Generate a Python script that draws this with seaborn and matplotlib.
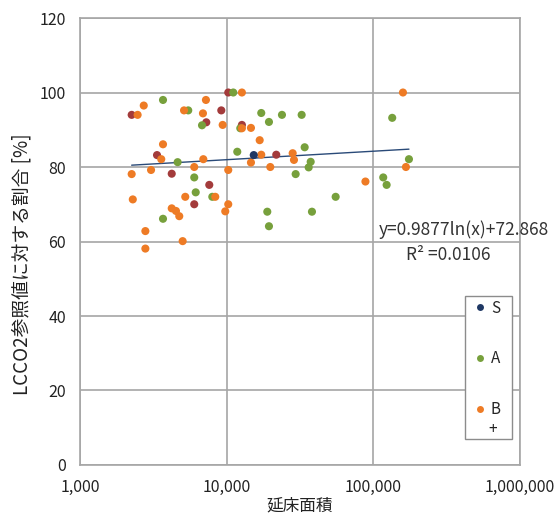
import matplotlib
matplotlib.use("Agg")
import matplotlib.pyplot as plt
import matplotlib.ticker as mticker
from matplotlib.lines import Line2D
from matplotlib.patches import Rectangle
import numpy as np
import pandas as pd
import seaborn as sns

### Data (floor area, % of LCCO2 reference)
s_area = [15300]
s_ratio = [83.2]

a_area = [3680, 5470, 6790, 4630, 6010, 6150, 7980, 3680, 11090, 17210,
          23820, 32450, 19420, 12380, 11810, 34020, 37390, 36230, 29530, 134500,
          174900, 116800, 123200, 55340, 18920, 38150, 19420]
a_ratio = [98.0, 95.2, 91.2, 81.3, 77.2, 73.2, 72.0, 66.1, 100.0, 94.5,
           94.0, 94.0, 92.1, 90.4, 84.1, 85.3, 81.4, 79.9, 78.1, 93.2,
           82.1, 77.2, 75.2, 72.0, 68.0, 68.0, 64.1]

b_area = [2720, 7220, 2470, 5120, 6890, 9390, 3680, 3580, 6930, 6010,
          3050, 2250, 10250, 12700, 12700, 14640, 16790, 17210, 28180, 28760,
          14640, 19830, 159200, 166800, 5220, 8360, 2290, 4220, 4510, 4750,
          9780, 10250, 2790, 5010, 2790, 88330]
b_ratio = [96.5, 98.0, 94.0, 95.2, 94.4, 91.3, 86.1, 82.1, 82.1, 80.0,
           79.2, 78.1, 79.2, 100.0, 90.4, 90.5, 87.2, 83.3, 83.7, 81.9,
           81.2, 80.0, 100.0, 80.0, 72.0, 72.0, 71.3, 68.9, 68.2, 66.8,
           68.1, 70.0, 62.8, 60.1, 58.1, 76.1]

bp_area = [2250, 9190, 7260, 10250, 3350, 4220, 12700, 21780, 7610, 6010]
bp_ratio = [94.0, 95.2, 92.0, 100.0, 83.2, 78.2, 91.3, 83.3, 75.2, 70.0]

classes = ["B+", "A", "B", "S"]
colors = {"S": "#1f3864", "A": "#77a03c", "B": "#ee7b25", "B+": "#a33b3b"}

# trend line as printed on the chart
trend_a = 0.9877
trend_b = 72.868
trend_r2 = 0.0106

x_ticks = [1000, 10000, 100000, 1000000]
y_ticks = [0, 20, 40, 60, 80, 100, 120]


def main():
    df = pd.concat([
        pd.DataFrame({"area": s_area, "ratio": s_ratio, "rank": "S"}),
        pd.DataFrame({"area": a_area, "ratio": a_ratio, "rank": "A"}),
        pd.DataFrame({"area": b_area, "ratio": b_ratio, "rank": "B"}),
        pd.DataFrame({"area": bp_area, "ratio": bp_ratio, "rank": "B+"}),
    ], ignore_index=True)

    sns.set_style("white")
    plt.rcParams["font.family"] = ["Noto Sans CJK JP", "DejaVu Sans"]

    fig = plt.figure(figsize=(5.58, 5.22), dpi=100)
    ax = fig.add_axes([0.1434, 0.1092, 0.7885, 0.8563])

    grid_c = "#a6a6a6"
    ax.set_xscale("log")
    ax.set_xlim(1000, 1000000)
    ax.set_ylim(0, 120)
    ax.set_xticks(x_ticks)
    ax.set_yticks(y_ticks)
    ax.xaxis.set_minor_locator(mticker.NullLocator())
    ax.xaxis.set_major_formatter(mticker.FuncFormatter(lambda v, p: f"{int(v):,}"))
    ax.grid(True, color=grid_c, linewidth=1.2)
    ax.set_axisbelow(True)
    for sp in ax.spines.values():
        sp.set_color(grid_c)
        sp.set_linewidth(1.2)
    ax.tick_params(axis="both", which="major", length=4.5, width=1.2, color=grid_c,
                   labelsize=11.5, labelcolor="#222222", direction="out", pad=5.5)

    # trend line
    xs = np.geomspace(min(df["area"]), max(df["area"]), 100)
    ax.plot(xs, trend_a * np.log(xs) + trend_b, color="#2a4a78", linewidth=1.0, zorder=3)

    for k in classes:
        sub = df[df["rank"] == k]
        sns.scatterplot(data=sub, x="area", y="ratio", color=colors[k], s=34,
                        edgecolor="none", ax=ax, zorder=4, legend=False)

    ax.set_xlabel("延床面積", fontsize=12, color="#222222", labelpad=1)
    ax.set_ylabel("LCCO2参照値に対する割合 [%]", fontsize=13.5, color="#222222")
    ax.yaxis.set_label_coords(-0.108, 0.45)

    ax.text(0.680, 0.526, f"y={trend_a}ln(x)+{trend_b}", transform=ax.transAxes,
            fontsize=12.5, color="#333333", va="center", ha="left", clip_on=False)
    ax.text(0.836, 0.470, f"R² ={trend_r2}", transform=ax.transAxes,
            fontsize=12.5, color="#333333", va="center", ha="center")

    # legend box
    ax.add_patch(Rectangle((0.875, 0.058), 0.107, 0.32, transform=ax.transAxes,
                           facecolor="white", edgecolor="#8c8c8c", linewidth=1.0,
                           zorder=5, clip_on=False))
    handles = [Line2D([], [], marker="o", linestyle="none", markersize=5,
                      markerfacecolor=colors[k], markeredgecolor="none")
               for k in ["S", "A", "B"]]
    leg = ax.legend(handles, ["S", "A", "B"], frameon=False, loc="upper left",
                    bbox_to_anchor=(0.875, 0.39), borderaxespad=0, handlelength=0.8,
                    handletextpad=0.3, labelspacing=2.2, fontsize=11, borderpad=0.6)
    leg.set_zorder(6)
    ax.text(0.928, 0.08, "+", transform=ax.transAxes, fontsize=11,
            color="#222222", va="center", ha="left", zorder=7)

    fig.savefig("out.png", dpi=100)


if __name__ == "__main__":
    main()
